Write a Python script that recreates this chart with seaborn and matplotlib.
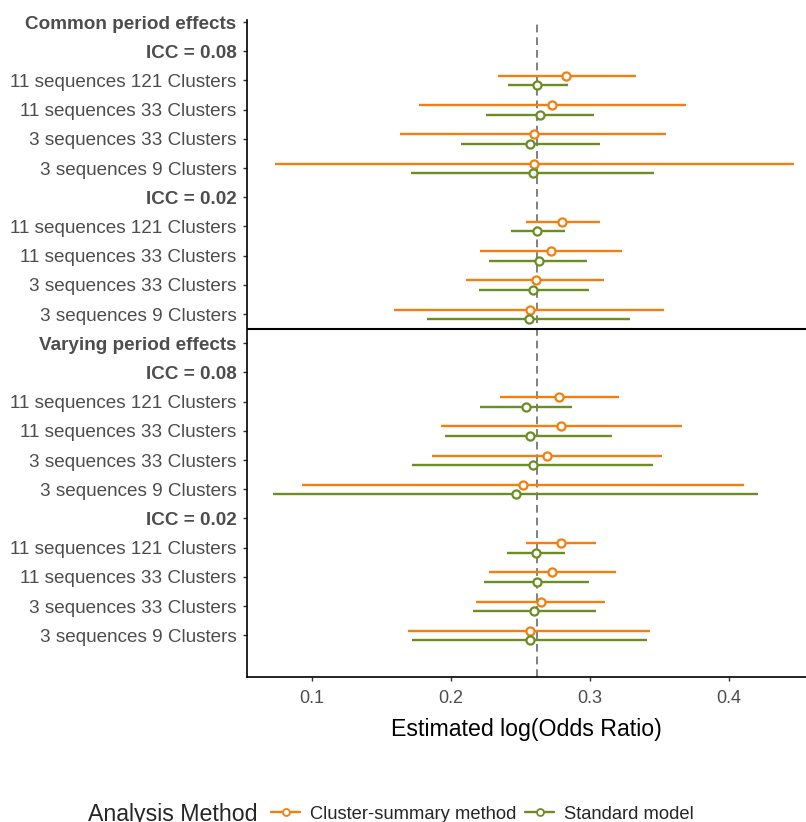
import numpy as np
import pandas as pd
import matplotlib.pyplot as plt
from matplotlib.lines import Line2D
import seaborn as sns

# row labels, top to bottom
row_labels = [
    'Common period effects', 'ICC = 0.08',
    '11 sequences 121 Clusters', '11 sequences 33 Clusters',
    '3 sequences 33 Clusters', '3 sequences 9 Clusters',
    'ICC = 0.02',
    '11 sequences 121 Clusters', '11 sequences 33 Clusters',
    '3 sequences 33 Clusters', '3 sequences 9 Clusters',
    'Varying period effects', 'ICC = 0.08',
    '11 sequences 121 Clusters', '11 sequences 33 Clusters',
    '3 sequences 33 Clusters', '3 sequences 9 Clusters',
    'ICC = 0.02',
    '11 sequences 121 Clusters', '11 sequences 33 Clusters',
    '3 sequences 33 Clusters', '3 sequences 9 Clusters',
]
header_rows = [0, 1, 6, 11, 12, 17]
data_rows = [2, 3, 4, 5, 7, 8, 9, 10, 13, 14, 15, 16, 18, 19, 20, 21]

methods = ['Cluster-summary method', 'Standard model']

# estimates and interval bounds per data row
cs_est = [0.283, 0.273, 0.260, 0.260, 0.280, 0.272, 0.261, 0.257,
          0.278, 0.279, 0.269, 0.252, 0.279, 0.273, 0.265, 0.257]
cs_lo = [0.234, 0.177, 0.163, 0.073, 0.254, 0.221, 0.211, 0.159,
         0.235, 0.193, 0.186, 0.093, 0.254, 0.227, 0.218, 0.169]
cs_hi = [0.333, 0.369, 0.355, 0.447, 0.307, 0.323, 0.310, 0.353,
         0.321, 0.366, 0.352, 0.411, 0.304, 0.319, 0.311, 0.343]

sm_est = [0.262, 0.264, 0.257, 0.259, 0.262, 0.263, 0.259, 0.256,
          0.254, 0.257, 0.259, 0.247, 0.261, 0.262, 0.260, 0.257]
sm_lo = [0.241, 0.225, 0.207, 0.171, 0.243, 0.227, 0.220, 0.183,
         0.221, 0.196, 0.172, 0.072, 0.240, 0.224, 0.216, 0.172]
sm_hi = [0.284, 0.303, 0.307, 0.346, 0.282, 0.298, 0.299, 0.329,
         0.287, 0.316, 0.345, 0.421, 0.282, 0.299, 0.304, 0.341]

true_value = 0.262

palette = {'Cluster-summary method': '#F47E0E', 'Standard model': '#6B8E23'}
dodge = {'Cluster-summary method': -0.15, 'Standard model': 0.17}

df = pd.concat([
    pd.DataFrame({'row': data_rows, 'method': methods[0],
                  'est': cs_est, 'lo': cs_lo, 'hi': cs_hi}),
    pd.DataFrame({'row': data_rows, 'method': methods[1],
                  'est': sm_est, 'lo': sm_lo, 'hi': sm_hi}),
])
df['y'] = df['row'] + df['method'].map(dodge)

sns.set_theme(style='ticks')
plt.rcParams['font.family'] = ['Liberation Sans', 'DejaVu Sans']

fig = plt.figure(figsize=(8.06, 8.22), dpi=100)
ax = fig.add_axes([247 / 806, 145 / 822, 559 / 806, 657 / 822])

ax.axvline(true_value, color='#808080', lw=1.4, ls=(0, (4, 2.5)), zorder=1)

for m in methods:
    sub = df[df['method'] == m]
    ax.hlines(sub['y'], sub['lo'], sub['hi'], color=palette[m], lw=1.7, zorder=2)
    sns.scatterplot(data=sub, x='est', y='y', ax=ax, color=palette[m],
                    facecolor='white', edgecolor=palette[m], linewidth=1.6,
                    s=34, zorder=3, legend=False)

ax.axhline(10.5, color='black', lw=1.5, zorder=1)

ax.set_ylim(22.43, -0.07)
ax.set_xlim(0.0532, 0.4554)
ax.set_yticks(range(len(row_labels)))
ax.set_yticklabels(row_labels)
for i, t in enumerate(ax.get_yticklabels()):
    if i in header_rows:
        t.set_fontweight('bold')
ax.set_xticks([0.1, 0.2, 0.3, 0.4])
ax.set_xticklabels(['0.1', '0.2', '0.3', '0.4'])
ax.tick_params(axis='y', labelsize=13.6, labelcolor='#4D4D4D', color='#333333',
               length=3, width=1, pad=4.5)
ax.tick_params(axis='x', labelsize=13, labelcolor='#4D4D4D', color='#333333',
               length=3, width=1, pad=6.5)
ax.set_ylabel('')
ax.set_xlabel('Estimated log(Odds Ratio)', fontsize=16.7, color='black', labelpad=7.5)

sns.despine(ax=ax)
for side in ['left', 'bottom']:
    ax.spines[side].set_color('black')
    ax.spines[side].set_linewidth(1.2)

# legend along the bottom
fig.text(88 / 806, 8 / 822, 'Analysis Method', fontsize=16.7, va='center', ha='left')
handles = [Line2D([0], [0], color=palette[m], lw=1.7, marker='o', markersize=5,
                  markerfacecolor='white', markeredgecolor=palette[m],
                  markeredgewidth=1.3) for m in methods]
fig.legend(handles, methods, loc='center left', bbox_to_anchor=(271 / 806, 8 / 822),
           ncol=2, frameon=False, fontsize=13.2, handlelength=1.6, handletextpad=0.55,
           columnspacing=0.45, borderaxespad=0, borderpad=0)

fig.savefig('out.png', dpi=100)
